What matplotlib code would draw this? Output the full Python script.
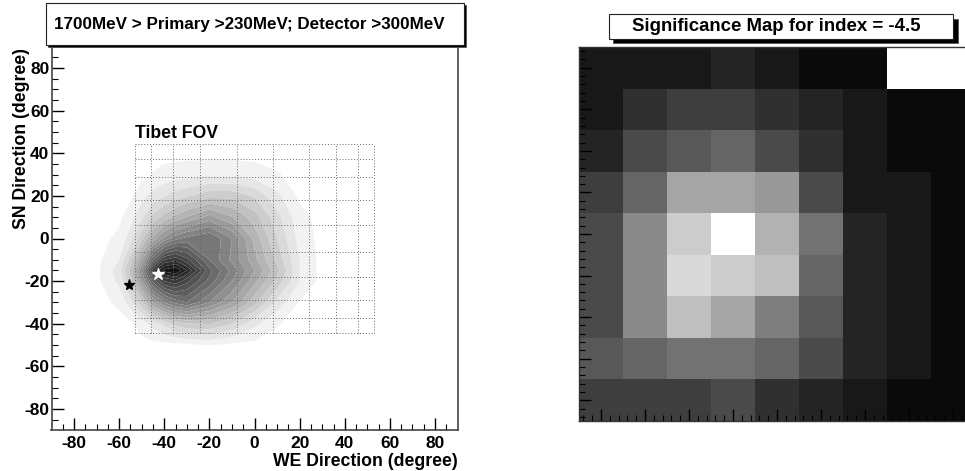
#!/usr/bin/env python3
"""Contour map of the Tibet FOV next to the significance map."""

from __future__ import annotations

import matplotlib
import numpy as np

matplotlib.use("Agg")
import matplotlib.pyplot as plt
from matplotlib.patches import Rectangle

W, H = 965, 471

# left panel: hand-read contour heights
grid_x = [-70, -60, -55, -50, -45, -40, -35, -30, -20, -10, 0, 10, 20, 30]
grid_y = [40, 30, 20, 10, 0, -10, -15, -20, -30, -40, -50]
heights = [
    [0, 0, 0, 0, 0, 0, 0, 0, 0, 0, 0, 0, 0, 0],
    [0, 0, 0, 0.05, 0.3, 0.5, 0.6, 0.7, 0.8, 0.8, 0.6, 0.3, 0, 0],
    [0, 0, 0.1, 0.7, 1.3, 1.7, 2.1, 2.4, 3, 3, 2.4, 1.2, 0.1, 0],
    [0, 0.1, 0.7, 1.6, 2.7, 3.5, 4.2, 4.8, 5.8, 4.8, 3.6, 2, 0.5, 0],
    [0, 0.4, 1.4, 3, 5, 6.5, 7.5, 8, 8.5, 7, 4.5, 2.5, 0.7, 0],
    [0.05, 1, 2.8, 5.5, 9, 11.5, 12, 11, 8.5, 6.8, 5, 3, 1, 0],
    [0.05, 1.4, 3.5, 7, 12, 14, 14.5, 13, 9.5, 7.5, 5.5, 3.5, 1, 0],
    [0.05, 1.2, 3, 6, 9.5, 11.5, 12, 11, 9, 7, 5, 3, 1, 0],
    [0, 0.4, 1.4, 3, 5.5, 7, 8, 8.5, 7, 5.5, 3.5, 1.5, 0.2, 0],
    [0, 0, 0.1, 0.6, 1.3, 2, 2.8, 3.2, 3.3, 2.5, 1.2, 0.3, 0, 0],
    [0, 0, 0, 0, 0, 0, 0, 0.05, 0.3, 0.05, 0, 0, 0, 0],
]
fov_x = [-53, -46, -36, -24, -8, 8, 24, 36, 46, 53]
fov_y = [44.5, 37.5, 29, 18, 6.3, -6.3, -18, -29, -37.5, -44.5]
star_black = (-55.5, -21.7)
star_white = (-43, -16.8)

# right panel: grey level of each cell, top row first (None = empty cell)
significance = [
    [0x18, 0x18, 0x18, 0x24, 0x18, 0x0a, 0x0a, None, None],
    [0x18, 0x30, 0x3e, 0x3e, 0x30, 0x24, 0x18, 0x0a, 0x0a],
    [0x24, 0x4a, 0x58, 0x65, 0x4a, 0x30, 0x18, 0x0a, 0x0a],
    [0x3e, 0x65, 0xa5, 0xa5, 0x98, 0x4a, 0x18, 0x18, 0x0a],
    [0x4a, 0x8a, 0xcc, 0xff, 0xb2, 0x72, 0x24, 0x18, 0x0a],
    [0x4a, 0x8a, 0xd9, 0xcc, 0xbf, 0x65, 0x24, 0x18, 0x0a],
    [0x4a, 0x8a, 0xbf, 0xa5, 0x7e, 0x58, 0x24, 0x18, 0x0a],
    [0x58, 0x65, 0x72, 0x72, 0x65, 0x4a, 0x24, 0x18, 0x0a],
    [0x3e, 0x3e, 0x3e, 0x4a, 0x30, 0x24, 0x18, 0x0a, 0x0a],
]

plt.rcParams["font.family"] = "Liberation Sans"
plt.rcParams["font.weight"] = "bold"
plt.rcParams["axes.unicode_minus"] = False


def px_axes(fig, left, top, right, bottom):
    return fig.add_axes([left / W, 1 - bottom / H, (right - left) / W, (bottom - top) / H])


def title_box(fig, left, top, right, bottom, shadow, text, text_x, ha, size):
    sh = Rectangle(
        ((left + shadow) / W, 1 - (bottom + shadow) / H),
        (right - left) / W,
        (bottom - top) / H,
        transform=fig.transFigure,
        facecolor="black",
        edgecolor="#555555",
        lw=0.6,
        zorder=10,
    )
    box = Rectangle(
        (left / W, 1 - bottom / H),
        (right - left) / W,
        (bottom - top) / H,
        transform=fig.transFigure,
        facecolor="white",
        edgecolor="#222222",
        lw=0.8,
        zorder=11,
    )
    fig.add_artist(sh)
    fig.add_artist(box)
    fig.text(text_x / W, 1 - (top + bottom) / 2 / H, text, ha=ha, va="center", fontsize=size, zorder=12)


def main() -> None:
    fig = plt.figure(figsize=(W / 100, H / 100), dpi=100, facecolor="white")

    ax = px_axes(fig, 51.5, 46.7, 457.6, 430.3)
    levels = np.arange(0.25, 15.25, 0.75)
    greys = np.linspace(0.95, 0.08, len(levels) - 1)
    ax.contourf(grid_x, grid_y, heights, levels=levels, colors=[str(g) for g in greys], antialiased=True)
    for x in fov_x:
        ax.plot([x, x], [fov_y[-1], fov_y[0]], ls=(0, (1, 2)), color="#666666", lw=0.7)
    for y in fov_y:
        ax.plot([fov_x[0], fov_x[-1]], [y, y], ls=(0, (1, 2)), color="#666666", lw=0.7)
    ax.plot(*star_black, marker="*", ms=8, color="black", mec="black", ls="none")
    ax.plot(*star_white, marker="*", ms=9, color="white", mec="white", ls="none")
    ax.text(-53, 45.2, "Tibet FOV", fontsize=12.7, ha="left", va="bottom")

    ax.set_xlim(-90, 90)
    ax.set_ylim(-90, 90)
    ticks = np.arange(-80, 81, 20)
    ax.set_xticks(ticks)
    ax.set_yticks(ticks)
    ax.set_xticks(np.arange(-85, 90, 5), minor=True)
    ax.set_yticks(np.arange(-85, 90, 5), minor=True)
    ax.tick_params(which="major", direction="in", length=8.6, width=1.0, labelsize=12.5)
    ax.tick_params(axis="x", which="major", pad=4)
    ax.tick_params(axis="y", which="major", pad=1.5)
    ax.tick_params(which="minor", direction="in", length=4.3, width=0.8)
    for side in ax.spines.values():
        side.set_linewidth(1.2)
        side.set_color("#444444")
    fig.text(458 / W, 1 - 461 / H, "WE Direction (degree)", ha="right", va="center", fontsize=12.7)
    fig.text(22 / W, 1 - 48 / H, "SN Direction (degree)", rotation=90, ha="center", va="top", fontsize=12.7)

    ax2 = px_axes(fig, 579, 47, 975, 421)
    cells = np.array([[np.nan if v is None else v for v in row] for row in significance], dtype=float)
    ax2.pcolormesh(np.arange(10), np.arange(10), cells, cmap="gray", vmin=0, vmax=255)
    ax2.set_xlim(0, 9)
    ax2.set_ylim(9, 0)
    ax2.set_xticks(np.arange(0.5, 9, 1))
    ax2.set_yticks(np.arange(0.5, 9, 1))
    ax2.set_xticks(np.arange(0.1, 9, 0.2), minor=True)
    ax2.set_yticks(np.arange(0.1, 9, 0.2), minor=True)
    ax2.tick_params(which="major", direction="in", length=8.6, width=1.0, labelbottom=False, labelleft=False)
    ax2.tick_params(which="minor", direction="in", length=4.3, width=0.8)
    for side in ax2.spines.values():
        side.set_linewidth(1.0)
        side.set_color("#333333")

    title_box(fig, 46, 3, 464, 45, 2, "1700MeV > Primary >230MeV; Detector >300MeV", 54, "left", 12.25)
    title_box(fig, 608.5, 14, 953, 38.5, 4.5, "Significance Map for index = -4.5", 776.5, "center", 13.4)

    fig.savefig("out.png", dpi=100)
    plt.close(fig)


if __name__ == "__main__":
    main()
